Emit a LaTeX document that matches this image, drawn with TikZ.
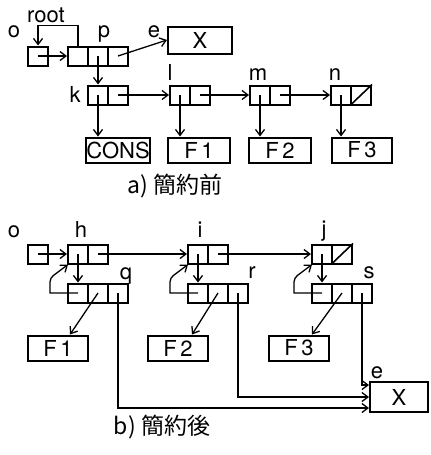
\documentclass[tikz,border=0pt]{standalone}
\usepackage{fontspec}
\setmainfont{TeX Gyre Heros}
\newfontfamily\jpfont{Noto Sans CJK JP}
\usetikzlibrary{arrows.meta,calc}

\tikzset{
  cell/.style={draw, line width=1pt, minimum width=10pt, minimum height=9.5pt, inner sep=0pt},
  atom/.style={draw, line width=1pt, minimum height=12.5pt, inner sep=0pt, font=\fontsize{11}{12}\selectfont},
  ptr/.style={line width=0.65pt, -{Straight Barb[length=3pt,width=4.5pt]}},
  lbl/.style={font=\fontsize{11}{12}\selectfont, inner sep=0pt, anchor=base},
  capt/.style={font=\jpfont\fontsize{11.5}{13}\selectfont},
  nil/.style={line width=0.8pt}
}

\begin{document}
\begin{tikzpicture}[x=0.5pt, y=-0.5pt]
    \useasboundingbox (0,0) rectangle (430,455);

    % a) ABANS DE LA REDUCCIO
    \foreach \nm/\x/\y in {oa/38/56, p1/78/56, p2/98/56, p3/118/56,
                           k1/98/95, k2/118/95, l1/180/95, l2/200/95,
                           m1/260/95, m2/280/95, n1/341/95, n2/361/95}
        \node[cell] (\nm) at (\x,\y) {};
    \draw[nil] (n2.south west) -- (n2.north east);

    \node[atom, minimum width=32pt, minimum height=13.5pt] (Xa) at (200,40) {X};
    \node[atom, minimum width=30pt] (cons) at (118,150) {CONS};
    \node[atom, minimum width=31pt] (f1a) at (199,150) {F\,1};
    \node[atom, minimum width=31pt] (f2a) at (280,150) {F\,2};
    \node[atom, minimum width=30pt] (f3a) at (362,150) {F\,3};

    % etiquetes
    \node[lbl] (loa) at (14,38) {o};
    \node[lbl] (lroot) at (46,23) {root};
    \node[lbl] (lp) at (104,37) {p};
    \node[lbl] (lea) at (154,37) {e};
    \node[lbl] (lk) at (75,102) {k};
    \node[lbl] (ll) at (170,80) {l};
    \node[lbl] (lm) at (258,80) {m};
    \node[lbl] (ln) at (335,80) {n};

    % punters
    \draw[ptr] (p1.north) -- ++(0,-20) -| (oa.north);
    \draw[ptr] (oa.center) -- (p1.west);
    \draw[ptr] (p3.center) -- (Xa.west);
    \draw[ptr] (p2.center) -- (k1.north);
    \draw[ptr] (k2.center) -- (l1.west);
    \draw[ptr] (l2.center) -- (m1.west);
    \draw[ptr] (m2.center) -- (n1.west);
    \draw[ptr] (k1.center) -- (k1.center |- cons.north);
    \draw[ptr] (l1.center) -- (l1.center |- f1a.north);
    \draw[ptr] (m1.center) -- (m1.center |- f2a.north);
    \draw[ptr] (n1.center) -- (n1.center |- f3a.north);

    \node[capt] (capa) at (175,186) {a)~簡約前};

    % b) DESPRES DE LA REDUCCIO
    \foreach \nm/\x/\y in {ob/38/254, h1/78/254, h2/98/254,
                           q1/78/293, q2/98/293, q3/118/293,
                           i1/198/254, i2/218/254,
                           r1/198/293, r2/218/293, r3/238/293,
                           j1/322/254, j2/342/254,
                           s1/322/293, s2/342/293, s3/362/293}
        \node[cell] (\nm) at (\x,\y) {};
    \draw[nil] (j2.south west) -- (j2.north east);

    \node[atom, minimum width=30pt] (f1b) at (58,348) {F\,1};
    \node[atom, minimum width=30pt] (f2b) at (178,348) {F\,2};
    \node[atom, minimum width=30pt] (f3b) at (299,348) {F\,3};
    \node[atom, minimum width=29pt, minimum height=15pt] (Xb) at (399,397) {X};

    \node[lbl] (lob) at (14,237) {o};
    \node[lbl] (lh) at (81,237) {h};
    \node[lbl] (li) at (200,237) {i};
    \node[lbl] (lj) at (324,236) {j};
    \node[lbl] (lq) at (126,279) {q};
    \node[lbl] (lr) at (252,278) {r};
    \node[lbl] (ls) at (369,278) {s};
    \node[lbl] (leb) at (377,378) {e};

    \draw[ptr] (ob.center) -- (h1.west);
    \draw[ptr] (h2.center) -- (i1.west);
    \draw[ptr] (i2.center) -- (j1.west);
    \foreach \up/\dn in {h1/q1, i1/r1, j1/s1} {
        \draw[ptr] (\up.center) -- (\dn.north);
        \draw[ptr] (\dn.center) -- ++(-28,0) [rounded corners=2pt] -- ++(0,-15) -- ($(\up.south west)+(1,0)$);
    }
    \draw[ptr] (q2.center) -- ($(f1b.north)+(12,0)$);
    \draw[ptr] (r2.center) -- ($(f2b.north)+(14,0)$);
    \draw[ptr] (s2.center) -- ($(f3b.north)+(13,0)$);

    % cap a X
    \draw[ptr] (q3.center) |- ($(Xb.west)+(0,11)$);
    \draw[ptr] (r3.center) |- (Xb.west);
    \draw[ptr] (s3.center) |- ($(Xb.west)+(0,-12)$);

    \node[capt] (capb) at (162,427) {b)~簡約後};
\end{tikzpicture}
\end{document}
